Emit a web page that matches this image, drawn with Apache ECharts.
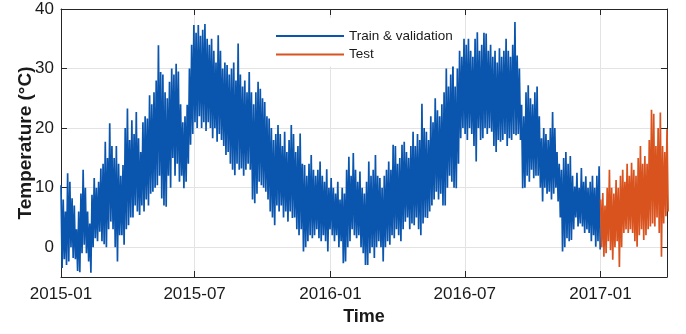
<!DOCTYPE html>
<html><head><meta charset="utf-8">
<script src="https://cdn.jsdelivr.net/npm/echarts@6/dist/echarts.min.js"></script>
<style>html,body{margin:0;padding:0;background:#fff}#c{width:686px;height:334px}</style>
</head><body><div id="c"></div>
<script>
// ---- data (one high / one low value per 3-day window) ----
const seriesNames = ['Train & validation', 'Test'];
const trainStart = '2015-01-01';
const testStart = '2017-01-01';
const axisStart = '2015-01-01';
const axisEnd = '2017-04-01';
const stepDays = 3;
const trainHigh = [
 10.4,8,6,12.4,11,8.2,7,3,6,9,13,10,6,4,8.8,11.6,10,11,13.2,14,17.7,15,20.8,17,15,17,14,12,13.8,20,23.3,18,21.3,19,22.7,18.3,16,21,22,21.6,25.5,24,26,28,33.9,29.4,
 29,26,25,27.8,30,29,30.8,29.5,24,21,22,23.9,30,34,37.3,36,37.3,35.5,36.5,37.5,35,34,35,33,31,35.6,33,30,31,30.6,29,30,31,28,34.2,29,27,28,26,29.4,26,24,26,27.8,26.6,25,
 24.4,22,21.6,20,18,19,20.5,19,17,19.4,16,18,20.5,19,16,17,19.1,14,13.8,12,14,15.5,13,12,13,14.4,12,11,13.1,10,11.6,10,9,11,8,10,9,13,15.2,12,15.8,13,11,12.7,10,9,
 11,14.4,12,13,15.5,12,11.6,10,12,13,14.4,13,17.2,17,14,15,17.2,17.7,16,15,17,19.4,17,19,18,24.1,20,19.4,18,22,21,25,23,22,24,26,30,27,29,31.7,27,30,33,32,35,34,
 35,33,32,35,36.1,33,34,36,35.9,33,34,32,33,31,33.4,32,33,35,33,32,34,37.8,32.2,30,23.9,22,26,27.2,25,24,26,27,22,18.3,20,19,18,20,22.7,20,16,14,13,15,16,14,
 15.3,12,10.2,12.5,10,13.3,11,11.9,10,11,12,10,12,13.6
];
const trainLow = [
 -3.5,-2,-3,-2.4,0,-1.8,-2,-4,-4.2,-1,0.4,-1,-2.4,-4.3,0,1.5,1,2.6,1,0.5,0,3,4.3,3,0,-2.4,2,2,0.4,3,3.7,5,5,7,6,5.4,7,6,8,7,9,9.3,10,10.4,12,8.2,
 7,6.8,12,10,15,12,14,11,12,9.9,11,14,17.2,19,21,20,22,20,21,19.5,21,20,18.3,20,17.7,19,18,17,15.5,16,14,13,12.1,14,13,13.2,12,13,14,13,8,7.4,9,11,10.4,10,
 9.3,8,6,5,3.7,7,6,7,5,6,4.3,6,4.9,5,3,2,3,-0.7,0,1,2,1.5,2,3,1.5,1,2,1,-0.7,3,2,1,2,0,1,-2.7,-2.4,0,1,3,2,1.5,2,0,-1,-3,
 -3,-1,0,-1.8,0,1,0,-2.4,0,1,0.4,2,1.5,3,2,1,3,4.3,5,3,4,3.7,5,3,2,4,5,4.9,6,7,8,9.3,8,9,7,7,10,12,11,10,9.9,14,18.3,20,19,18,
 20,19,17,14.4,20,18,18.3,20,19,20,19.4,17,16,18,17.7,18,19,17,18.3,18,19,18.8,19,18,9.9,10,12,11,13,11.6,12,12,10,7.7,10,9,9.3,8,9,10,7.7,5,-0.7,0,1.5,1,
 1.2,3,5,3.5,4,3.5,2.4,3,2.4,1,2,0.1,1,-0.4
];
const testHigh = [8,9.1,7,10,13,10,9,11.3,10,12,13,11,14,12,14.2,13,12,15,17,14,15.3,14,18,23.1,22.4,17,20,22.6,17,16,19.8];
const testLow  = [0,-1.6,-1,1,-0.5,-2.1,0,1,-3.3,0,2.4,3,2.4,3,2.4,1,0.1,2,3,1.2,2,3,3.5,4,3.5,5,2.4,-1.6,4,5.2,6];
const xTickLabels = ['2015-01', '2015-07', '2016-01', '2016-07', '2017-01'];
const yTickValues = [0, 10, 20, 30, 40];
const yMin = -5, yMax = 40;

// ---- build ----
const DAY = 86400000;
function ts(s) { const p = s.split('-').map(Number); return Date.UTC(p[0], p[1] - 1, p[2] || 1); }
function build(start, hi, lo) {
  const t0 = ts(start), out = [];
  for (let i = 0; i < hi.length; i++) {
    out.push([t0 + i * stepDays * DAY, hi[i]]);
    out.push([t0 + (i * stepDays + stepDays / 2) * DAY, lo[i]]);
  }
  return out;
}
const xTicks = xTickLabels.map(ts);
const FONT = '"Liberation Sans", Arial, Helvetica, sans-serif';
const AX = '#262626', GRID = '#e3e3e3';
function fmt(v) { const d = new Date(v); return d.getUTCFullYear() + '-' + String(d.getUTCMonth() + 1).padStart(2, '0'); }

const chart = echarts.init(document.getElementById('c'), null, { renderer: 'canvas' });
chart.setOption({
  animation: false,
  backgroundColor: '#fff',
  textStyle: { fontFamily: FONT },
  grid: { left: 61, top: 9, width: 606, height: 268, containLabel: false },
  legend: {
    data: seriesNames, orient: 'vertical', left: 261, top: 18,
    itemWidth: 68, itemHeight: 12, itemGap: 4.5,
    padding: [11, 5, 5, 14], backgroundColor: '#fff',
    itemStyle: { opacity: 0 },
    textStyle: { fontSize: 13.5, color: '#1a1a1a', fontFamily: FONT }
  },
  xAxis: [{
    type: 'value', min: ts(axisStart), max: ts(axisEnd), position: 'bottom',
    axisLine: { show: true, onZero: false, lineStyle: { color: AX, width: 1 } },
    axisTick: { show: true, inside: true, length: 6, customValues: xTicks, lineStyle: { color: AX } },
    axisLabel: { customValues: xTicks, formatter: fmt, fontSize: 17, color: '#1a1a1a', margin: 9, fontFamily: FONT, hideOverlap: false },
    splitLine: { show: true, lineStyle: { color: GRID, width: 1 } },
    name: 'Time', nameLocation: 'middle', nameGap: 30,
    nameTextStyle: { fontWeight: 'bold', fontSize: 18, color: '#1a1a1a', fontFamily: FONT }
  }, {
    type: 'value', min: ts(axisStart), max: ts(axisEnd), position: 'top',
    axisLine: { show: true, onZero: false, lineStyle: { color: AX, width: 1 } },
    axisTick: { show: true, inside: true, length: 6, customValues: xTicks, lineStyle: { color: AX } },
    axisLabel: { show: false }, splitLine: { show: false }
  }],
  yAxis: [{
    type: 'value', min: yMin, max: yMax, position: 'left',
    axisLine: { show: true, onZero: false, lineStyle: { color: AX, width: 1 } },
    axisTick: { show: true, inside: true, length: 6, customValues: yTickValues, lineStyle: { color: AX } },
    axisLabel: { customValues: yTickValues, fontSize: 17, color: '#1a1a1a', margin: 7, fontFamily: FONT },
    splitLine: { show: true, lineStyle: { color: GRID, width: 1 } },
    name: 'Temperature (°C)', nameLocation: 'middle', nameGap: 26, nameRotate: 90, nameMoveOverlap: false,
    nameTextStyle: { fontWeight: 'bold', fontSize: 19, color: '#1a1a1a', fontFamily: FONT }
  }, {
    type: 'value', min: yMin, max: yMax, position: 'right',
    axisLine: { show: true, onZero: false, lineStyle: { color: AX, width: 1 } },
    axisTick: { show: true, inside: true, length: 6, customValues: yTickValues, lineStyle: { color: AX } },
    axisLabel: { show: false }, splitLine: { show: false }
  }],
  series: [{
    name: seriesNames[0], type: 'line', symbol: 'none', showSymbol: false,
    data: build(trainStart, trainHigh, trainLow),
    lineStyle: { width: 1.7, color: '#0a55ae' }, itemStyle: { color: '#0a55ae' }, z: 2
  }, {
    name: seriesNames[1], type: 'line', symbol: 'none', showSymbol: false,
    data: build(testStart, testHigh, testLow),
    lineStyle: { width: 1.7, color: '#d9531e' }, itemStyle: { color: '#d9531e' }, z: 3
  }]
});
</script>
</body></html>
